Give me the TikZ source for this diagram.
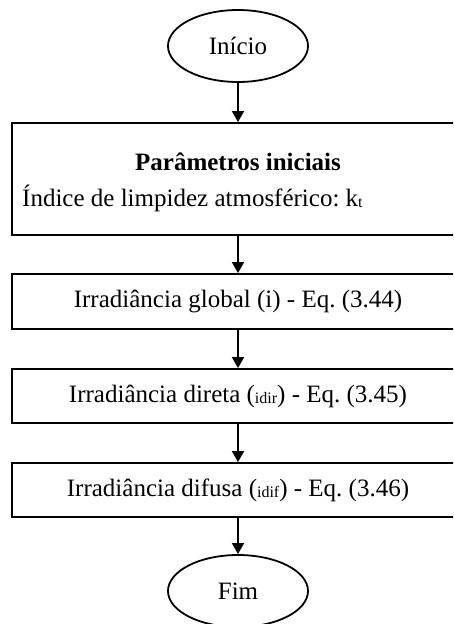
\documentclass[tikz,border=0pt]{standalone}
\usepackage{fontspec}
\setmainfont{Liberation Serif}
\usetikzlibrary{shapes.geometric,arrows.meta}
\frenchspacing

% small lowered text used for the subscripted symbols
\newcommand{\smallsub}[1]{\raisebox{-1pt}{\fontsize{16}{18}\selectfont #1}}

\tikzset{
  every node/.style={font=\fontsize{25}{30}\selectfont},
  terminal/.style={draw, ellipse, line width=1.8pt, minimum width=140pt, minimum height=72pt, inner sep=0pt},
  procbox/.style={draw, rectangle, line width=1.8pt, minimum width=452pt, inner sep=0pt},
  plain/.style={inner sep=0pt},
  flow/.style={line width=1.8pt, -{Triangle[width=12pt,length=11pt]}}
}

\begin{document}
\begin{tikzpicture}[x=1pt,y=-1pt]
  \clip (0,0) rectangle (453,624);

  % start / end terminals
  \node[terminal] (inicio) at (238,46) {Início};
  \node[terminal] (fim) at (238,591) {Fim};

  % process boxes
  \node[procbox, minimum height=112pt] (params) at (238,179) {};
  \node[plain] (ptitle) at (238,162) {\bfseries Parâmetros iniciais};
  \node[plain, anchor=west] (pkt) at (22,198) {Índice de limpidez atmosférico: k\smallsub{t}};

  \node[procbox, minimum height=55pt] (global) at (238,301.5) {Irradiância global (i) - Eq. (3.44)};
  \node[procbox, minimum height=54pt] (direta) at (238,396) {Irradiância direta (\smallsub{idir}) - Eq. (3.45)};
  \node[procbox, minimum height=54pt] (difusa) at (238,490) {Irradiância difusa (\smallsub{idif}) - Eq. (3.46)};

  % connectors
  \draw[flow] (inicio) -- (params);
  \draw[flow] (params) -- (global);
  \draw[flow] (global) -- (direta);
  \draw[flow] (direta) -- (difusa);
  \draw[flow] (difusa) -- (fim);
\end{tikzpicture}
\end{document}
